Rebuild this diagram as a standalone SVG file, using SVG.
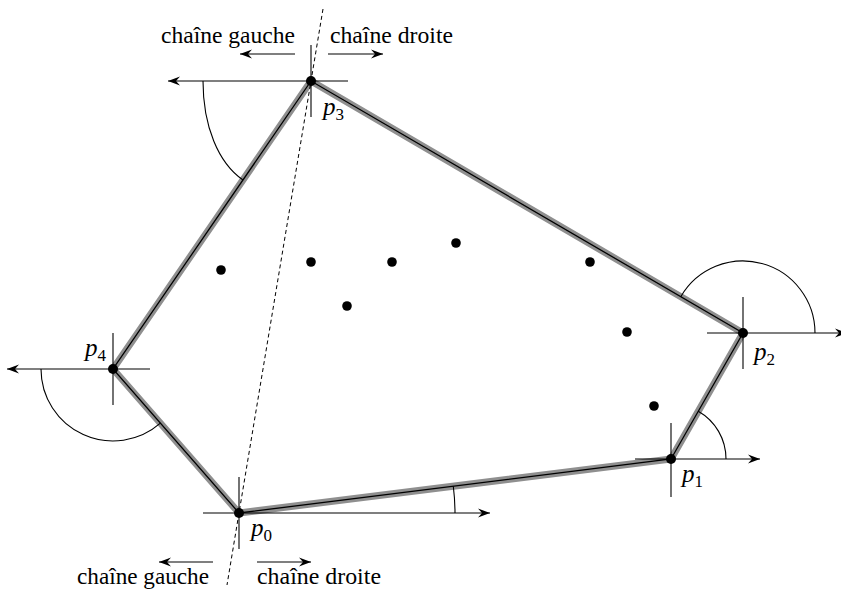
<svg xmlns="http://www.w3.org/2000/svg" width="841" height="594" viewBox="0 0 841 594">
<defs>
<marker id="arr" viewBox="-13 -5 14 10" refX="0" refY="0" markerWidth="14" markerHeight="10" markerUnits="userSpaceOnUse" orient="auto">
<path d="M0,0 L-12,-4.5 L-8,0 L-12,4.5 Z" fill="#000"/>
</marker>
<style>
.ln{stroke:#000;stroke-width:1.1;fill:none}
.ax{stroke:#000;stroke-width:1.1;fill:none}
.band{stroke:#8f8f8f;stroke-width:7;fill:none;stroke-linejoin:round}
.edge{stroke:#000;stroke-width:1.3;fill:none}
.dash{stroke:#000;stroke-width:1;fill:none;stroke-dasharray:4 3}
.txt{font-family:"Liberation Serif","Times New Roman",serif;font-size:23px;fill:#000}
.lbl{font-family:"Liberation Serif","Times New Roman",serif;font-size:25px;font-style:italic;fill:#000}
.sub{font-family:"Liberation Serif","Times New Roman",serif;font-size:17px;font-style:normal;fill:#000}
.dot{fill:#000}
</style>
</defs>
<g id="hull">
<polygon class="band" points="239,513 671,459 743,333 311,81 113,369"/>
<polygon class="edge" points="239,513 671,459 743,333 311,81 113,369"/>
</g>
<g id="connectors">
<line class="dash" x1="323" y1="9" x2="227" y2="585"/>
<line class="ax" x1="203" y1="513" x2="490" y2="513" marker-end="url(#arr)"/>
<line class="ax" x1="239" y1="477" x2="239" y2="549"/>
<line class="ax" x1="635" y1="459" x2="760" y2="459" marker-end="url(#arr)"/>
<line class="ax" x1="671" y1="423" x2="671" y2="497"/>
<line class="ax" x1="707" y1="333" x2="847" y2="333" marker-end="url(#arr)"/>
<line class="ax" x1="743" y1="297" x2="743" y2="369"/>
<line class="ax" x1="348" y1="81" x2="168" y2="81" marker-end="url(#arr)"/>
<line class="ax" x1="311" y1="45" x2="311" y2="117"/>
<line class="ax" x1="150" y1="369" x2="7" y2="369" marker-end="url(#arr)"/>
<line class="ax" x1="113" y1="333" x2="113" y2="405"/>
<path class="ln" d="M455,513 A216,216 0 0 0 453.3,486.2"/>
<path class="ln" d="M726,459 A55,55 0 0 0 698.3,411.2"/>
<path class="ln" d="M815,333 A72,72 0 0 0 680.8,296.7"/>
<path class="ln" d="M203,81 C203,126 218.3,163 243,180"/>
<path class="ln" d="M41,369 A72,72 0 0 0 160.4,423.2"/>
<line class="ax" x1="295" y1="54" x2="240" y2="54" marker-end="url(#arr)"/>
<line class="ax" x1="328" y1="54" x2="383" y2="54" marker-end="url(#arr)"/>
<line class="ax" x1="213" y1="562" x2="159" y2="562" marker-end="url(#arr)"/>
<line class="ax" x1="257" y1="562" x2="311" y2="562" marker-end="url(#arr)"/>
</g>
<g id="p0"><circle class="dot" cx="239" cy="513" r="5"/><text class="lbl" x="251" y="536">p<tspan class="sub" dy="5">0</tspan></text></g>
<g id="p1"><circle class="dot" cx="671" cy="459" r="5"/><text class="lbl" x="682" y="482">p<tspan class="sub" dy="5">1</tspan></text></g>
<g id="p2"><circle class="dot" cx="743" cy="333" r="5"/><text class="lbl" x="754" y="360">p<tspan class="sub" dy="5">2</tspan></text></g>
<g id="p3"><circle class="dot" cx="311" cy="81" r="5"/><text class="lbl" x="323" y="115">p<tspan class="sub" dy="5">3</tspan></text></g>
<g id="p4"><circle class="dot" cx="113" cy="369" r="5"/><text class="lbl" x="85" y="356">p<tspan class="sub" dy="5">4</tspan></text></g>
<g id="points">
<circle class="dot" cx="221" cy="270" r="4.8"/>
<circle class="dot" cx="311" cy="262" r="4.8"/>
<circle class="dot" cx="392" cy="262" r="4.8"/>
<circle class="dot" cx="456" cy="243" r="4.8"/>
<circle class="dot" cx="590" cy="262" r="4.8"/>
<circle class="dot" cx="347" cy="306" r="4.8"/>
<circle class="dot" cx="627" cy="332" r="4.8"/>
<circle class="dot" cx="654" cy="406" r="4.8"/>
</g>
<g id="labels">
<text class="txt" x="161" y="43" textLength="134" lengthAdjust="spacingAndGlyphs">chaîne gauche</text>
<text class="txt" x="330" y="43" textLength="123" lengthAdjust="spacingAndGlyphs">chaîne droite</text>
<text class="txt" x="77" y="584" textLength="132" lengthAdjust="spacingAndGlyphs">chaîne gauche</text>
<text class="txt" x="257" y="584" textLength="124" lengthAdjust="spacingAndGlyphs">chaîne droite</text>
</g>
</svg>
